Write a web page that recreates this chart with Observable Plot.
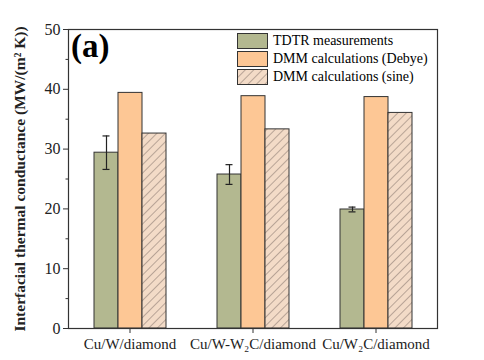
<!DOCTYPE html>
<html><head><meta charset="utf-8">
<script src="https://cdn.jsdelivr.net/npm/d3@7"></script>
<script src="https://cdn.jsdelivr.net/npm/@observablehq/plot@0.6"></script>
<style>
body{margin:0;background:#fff;}
#wrap{position:relative;width:484px;height:360px;font-family:"Liberation Serif","DejaVu Serif",serif;}
#panel{position:absolute;left:71px;top:28px;font-size:33px;font-weight:bold;}
#legend{position:absolute;left:237px;top:32px;font-size:14px;line-height:18px;}
#legend div{display:flex;align-items:center;height:18px;}
#legend svg{margin-right:5px;}
</style></head>
<body><div id="wrap"><div id="panel">(a)</div><div id="legend"></div></div>
<script>
const groups = ["Cu/W/diamond", "Cu/W-W2C/diamond", "Cu/W2C/diamond"];
const groupLabels = ["Cu/W/diamond", "Cu/W-W₂C/diamond", "Cu/W₂C/diamond"];
const series = ["TDTR measurements", "DMM calculations (Debye)", "DMM calculations (sine)"];
const tdtr = [29.4, 25.75, 19.9];
const tdtrErr = [2.8, 1.65, 0.4];
const debye = [39.4, 38.85, 38.7];
const sine = [32.6, 33.3, 36.05];
const colors = ["#b3b890", "#fdc795", "url(#hatch)"];

const data = [];
groups.forEach((g, i) => {
  data.push({group: g, series: series[0], value: tdtr[i]});
  data.push({group: g, series: series[1], value: debye[i]});
  data.push({group: g, series: series[2], value: sine[i]});
});
const errData = groups.map((g, i) => ({group: g, series: series[0], lo: tdtr[i] - tdtrErr[i], hi: tdtr[i] + tdtrErr[i]}));

const plot = Plot.plot({
  width: 484, height: 360,
  marginLeft: 67, marginRight: 46, marginTop: 29, marginBottom: 32,
  style: {fontFamily: "'Liberation Serif', serif", fontSize: "16px", color: "#222", background: "transparent"},
  fx: {domain: groups, padding: 0, label: null},
  x: {domain: series, paddingInner: 0, paddingOuter: 1, axis: null},
  y: {domain: [0, 50]},
  color: {domain: series, range: colors},
  marks: [
    Plot.barY(data, {fx: "group", x: "series", y: "value", fill: "series", stroke: "#333", strokeWidth: 1}),
    Plot.ruleX(errData, {fx: "group", x: "series", y1: "lo", y2: "hi", stroke: "#222", strokeWidth: 1.2}),
    Plot.tickY(errData, {fx: "group", x: "series", y: "lo", stroke: "#222", strokeWidth: 1.2, insetLeft: 8.5, insetRight: 8.5}),
    Plot.tickY(errData, {fx: "group", x: "series", y: "hi", stroke: "#222", strokeWidth: 1.2, insetLeft: 8.5, insetRight: 8.5}),
    Plot.axisFx({anchor: "bottom", tickSize: 5, tickPadding: 5, fontSize: 15, label: null, stroke: "#333",
      tickFormat: d => groupLabels[groups.indexOf(d)]}),
    Plot.axisY({ticks: d3.range(0, 51, 10), tickSize: 5, tickPadding: 3, fontSize: 16, stroke: "#333",
      label: "Interfacial thermal conductance (MW/(m² K))", labelAnchor: "center", labelOffset: 55, labelArrow: "none"}),
    Plot.axisY({ticks: d3.range(5, 50, 10), tickSize: 2.5, text: null, label: null, stroke: "#333"}),
    Plot.frame({facet: "super", stroke: "#333", strokeWidth: 1.2})
  ]
});
const svg = d3.select(plot);
const defs = svg.insert("defs", ":first-child");
function hatch(sel, id) {
  const p = sel.append("pattern").attr("id", id).attr("patternUnits", "userSpaceOnUse")
    .attr("width", 6).attr("height", 6).attr("patternTransform", "rotate(45)");
  p.append("rect").attr("width", 6).attr("height", 6).attr("fill", "#f3dbc7");
  p.append("line").attr("x1", 0).attr("y1", 0).attr("x2", 0).attr("y2", 6).attr("stroke", "#7d6e66").attr("stroke-width", 1);
}
hatch(defs, "hatch");
svg.selectAll("g[aria-label='y-axis label']").attr("font-weight", "bold").attr("font-size", 15.5);
document.getElementById("wrap").prepend(plot);

const leg = d3.select("#legend");
series.forEach((s, i) => {
  const row = leg.append("div");
  const sw = row.append("svg").attr("width", 31).attr("height", 16);
  if (i === 2) hatch(sw.append("defs"), "hatchL");
  sw.append("rect").attr("x", 0.5).attr("y", 0.5).attr("width", 30).attr("height", 15)
    .attr("fill", i === 2 ? "url(#hatchL)" : colors[i]).attr("stroke", "#333");
  row.append("span").text(s);
});
</script></body></html>
